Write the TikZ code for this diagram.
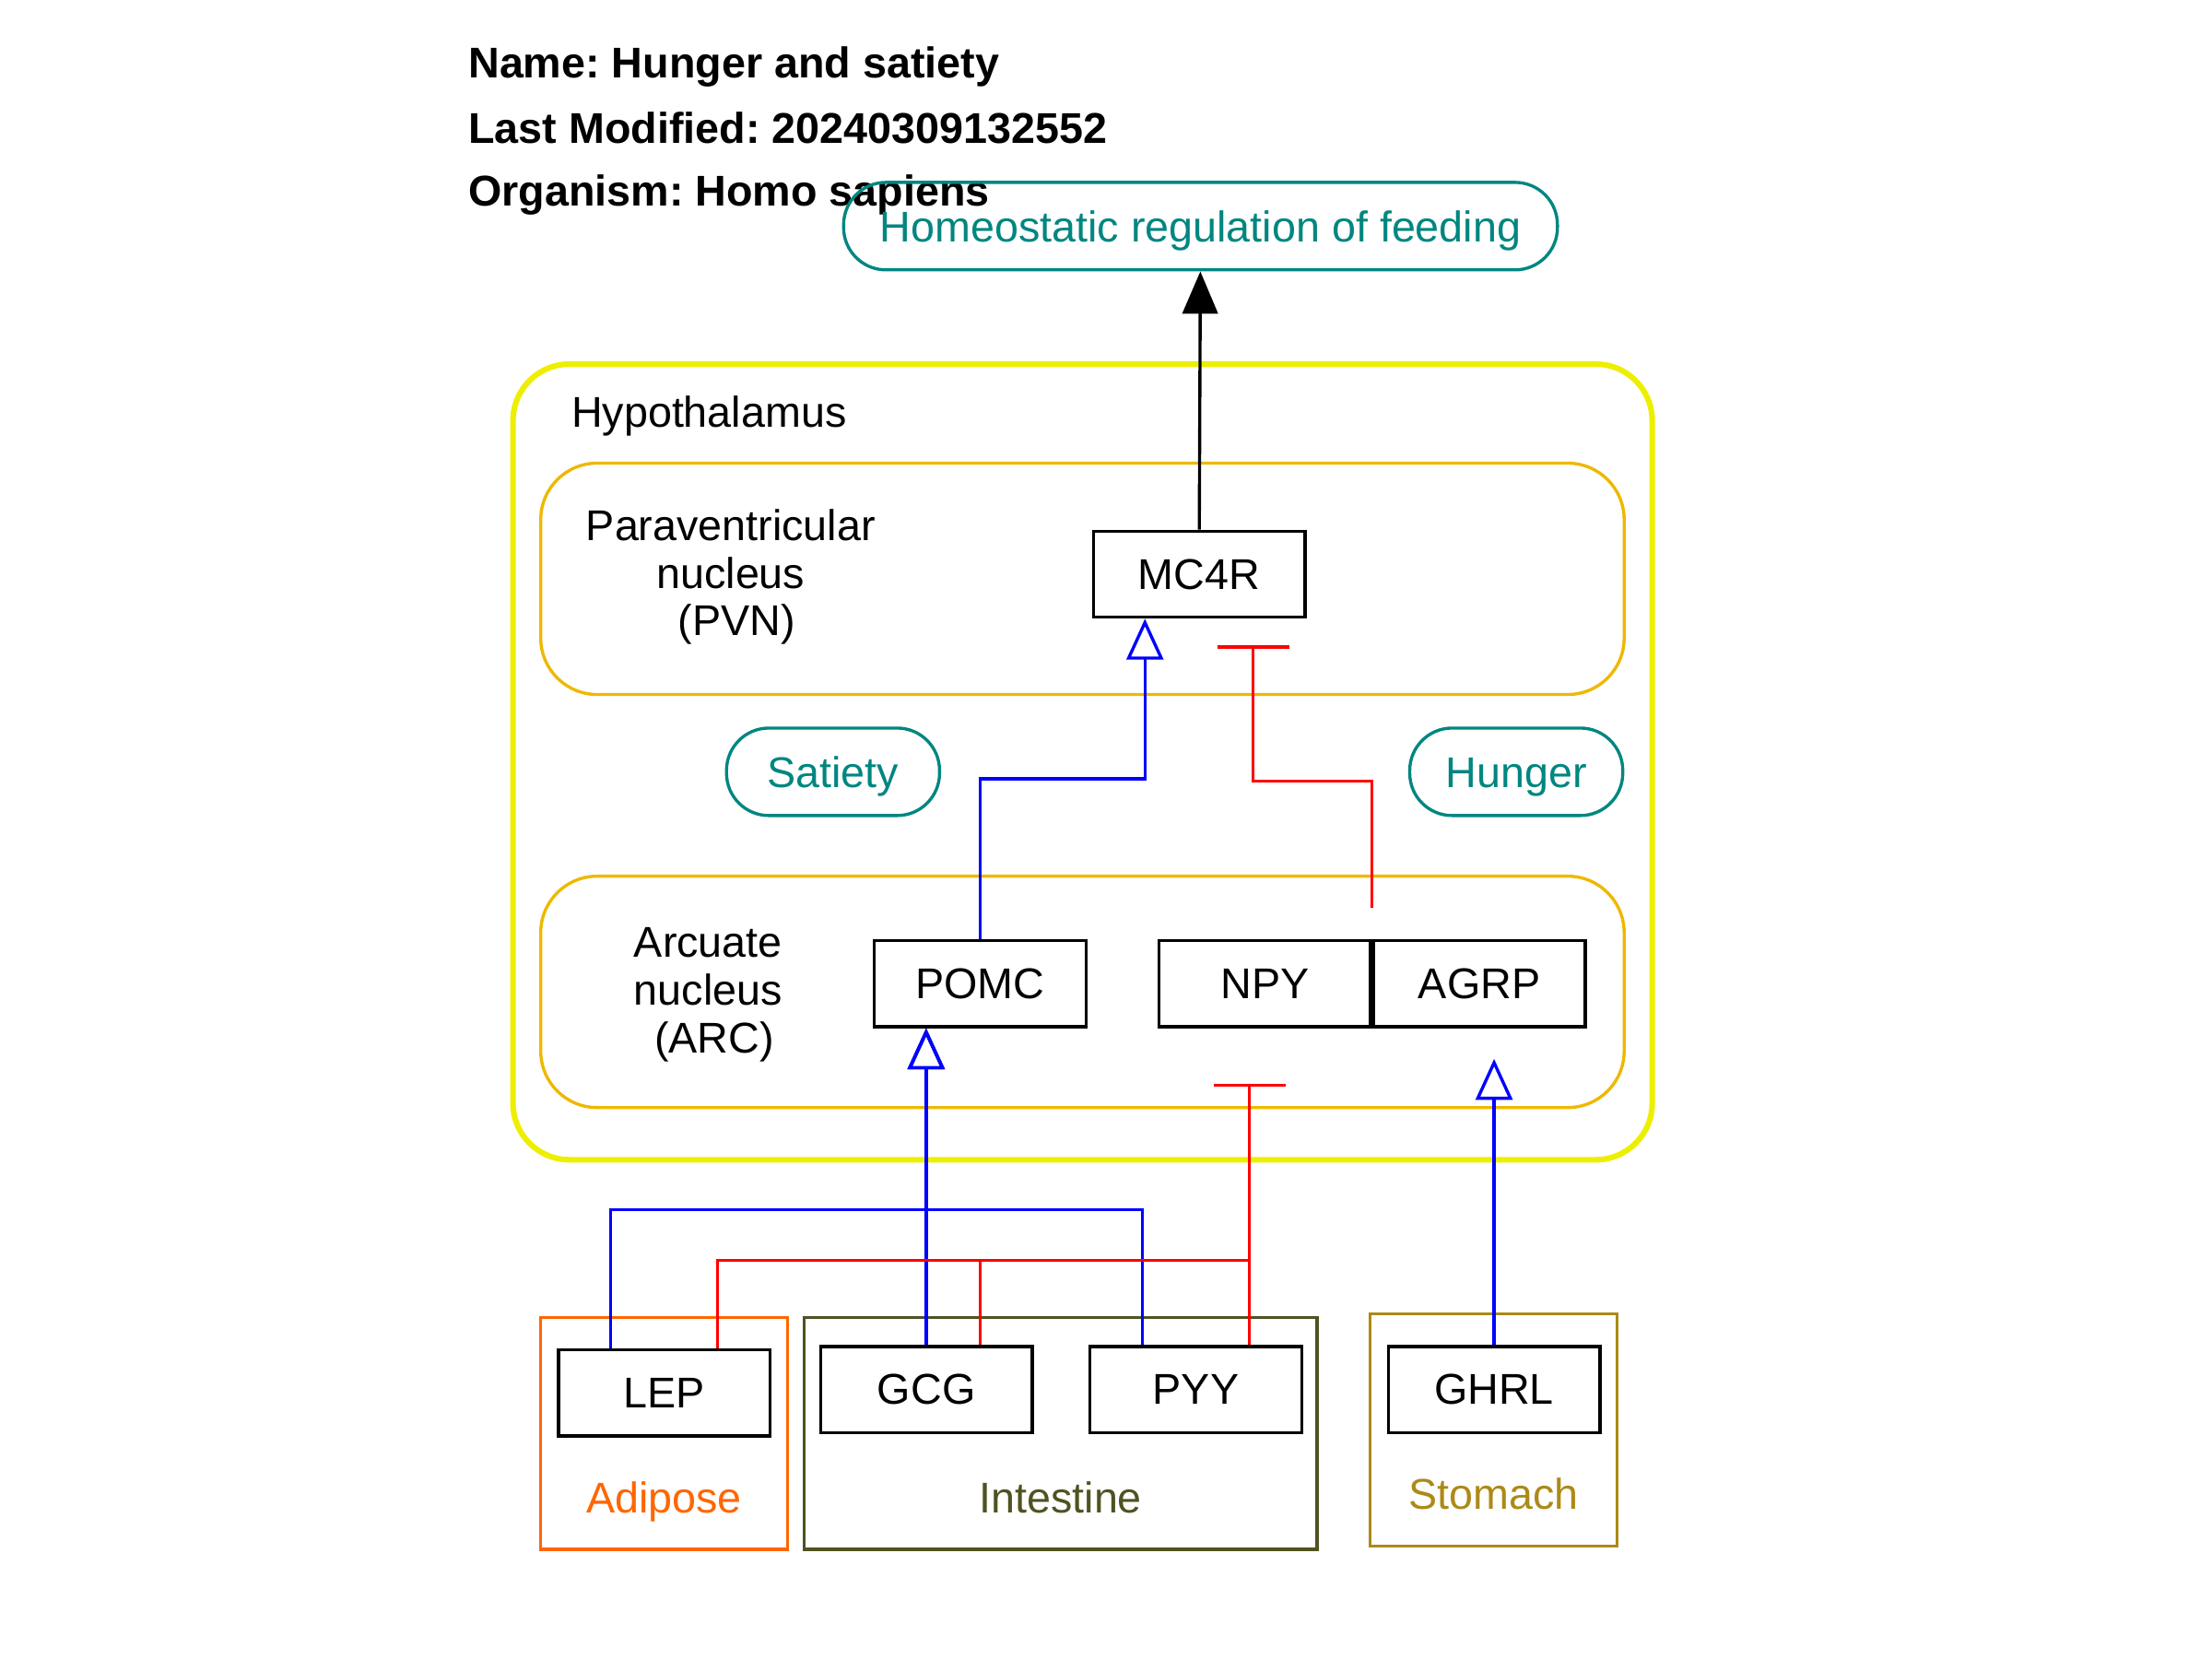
\documentclass[tikz,border=0pt]{standalone}
\usepackage{fontspec}
\setmainfont{Liberation Sans}
\usetikzlibrary{arrows.meta,positioning}
\definecolor{pillteal}{RGB}{0,134,128}
\definecolor{hypoyellow}{RGB}{238,238,0}
\definecolor{nucleusgold}{RGB}{238,184,0}
\definecolor{adiposeorange}{RGB}{255,102,0}
\definecolor{intestineolive}{RGB}{80,82,33}
\definecolor{stomachgold}{RGB}{173,138,23}
\frenchspacing

\begin{document}
\begin{tikzpicture} [x=0.5pt, y=-0.5pt, node distance=76pt,
                    every node/.style={font=\fontsize{15.25pt}{16.9pt}\selectfont},
                    title/.style={anchor=base west, inner sep=0pt, font=\fontsize{15.25pt}{16.9pt}\selectfont\bfseries},
                    gene/.style={draw, line width=1.1pt, minimum width=75pt, minimum height=30.5pt, inner sep=0pt},
                    pill/.style={draw=pillteal, text=pillteal, line width=1.1pt, rounded corners=15pt,
                                 minimum height=31pt, inner sep=0pt, text height=10.9pt, text depth=0pt},
                    nucleus/.style={draw=nucleusgold, line width=1.1pt, rounded corners=20pt,
                                    minimum width=384pt, minimum height=82pt},
                    tissue/.style={draw=#1, line width=1.1pt, minimum width=87.5pt, minimum height=82.25pt},
                    stim/.style={draw=blue, line width=1.1pt, -{Triangle[open, width=13pt, length=14.5pt]}},
                    inhib/.style={draw=red, line width=1.1pt, -{Bar[width=25.5pt]}}]
    \useasboundingbox (0,0) rectangle (1568,1176);

    \node[draw=hypoyellow, line width=2pt, rounded corners=20pt, minimum width=403.75pt,
          minimum height=282pt] (hypo) at (767.4,540.1) {};
    \node[nucleus] (pvn) at (767.3,410.3) {};
    \node[nucleus] (arc) at (767.3,703.1) {};
    \node[tissue=adiposeorange] (adipose) at (470.8,1016) {};
    \node[tissue=intestineolive, minimum width=181.85pt] (intestine) at (751.8,1016) {};
    \node[tissue=stomachgold] (stomach) at (1058.8,1013.6) {};

    \node[title] (name) at (331.7,55.5) {Name: Hunger and satiety};
    \node[title] (modified) at (331.7,101.3) {Last Modified: 20240309132552};
    \node[title] (organism) at (331.7,146.3) {Organism: Homo sapiens};

    \node[anchor=base west, inner sep=0pt] (hypolabel) at (404.7,302.7) {Hypothalamus};
    \node[align=center] (pvnlabel) at (518,409) {Paraventricular\\nucleus\\~(PVN)};
    \node[align=center] (arclabel) at (502,705) {Arcuate\\nucleus\\~(ARC)};
    \node[anchor=base, text=adiposeorange] (adiposelabel) at (470.8,1072.6) {Adipose};
    \node[anchor=base, text=intestineolive] (intestinelabel) at (751.8,1072.6) {Intestine};
    \node[anchor=base, text=stomachgold] (stomachlabel) at (1058.8,1069.7) {Stomach};

    \node[pill, minimum width=253pt] (feeding) at (851,160.3) {Homeostatic regulation of feeding};
    \node[pill, minimum width=75.5pt] (satiety) at (590.5,547.1) {Satiety};
    \node[pill, minimum width=75.5pt] (hunger) at (1074.8,547.1) {Hunger};

    \node[gene] (mc4r) at (850,407) {MC4R};
    \node[gene] (pomc) at (694.8,697.4) {POMC};
    \node[gene] (npy) at (896.6,697.4) {NPY};
    \node[gene] (agrp) [right of=npy] {AGRP};
    \node[gene] (lep) at (470.8,987.4) {LEP};
    \node[gene] (gcg) at (656.7,984.9) {GCG};
    \node[gene] (pyy) [right of=gcg, node distance=95.5pt] {PYY};
    \node[gene] (ghrl) at (1059.1,984.9) {GHRL};

    \coordinate (mc4rin) at (811.6,552);
    \coordinate (mc4rbar) at (888.4,553.6);
    \coordinate (pomcin) at (656.4,857.6);
    \coordinate (npybar) at (885.7,893.3);

    \path (mc4r) edge[line width=1.1pt, -{Triangle[width=12.5pt, length=15pt]}] (feeding);
    \draw[stim] (pomc) |- (mc4rin) -- (mc4r.south -| mc4rin);
    \draw[inhib, shorten >=9.5pt] ([yshift=11pt]agrp.north west) |- (mc4rbar) -- (mc4r.south -| mc4rbar);
    \draw[stim] ([xshift=-19pt]lep.north) |- (pomcin) -- (pomc.south -| pomcin);
    \draw[stim] ([xshift=-19pt]pyy.north) |- (pomcin) -- (pomc.south -| pomcin);
    \draw[stim] (gcg) -- (pomc.south -| gcg);
    \draw[inhib, shorten >=19.6pt] ([xshift=19pt]lep.north) |- (npybar) -- (npy.south -| npybar);
    \draw[inhib, shorten >=19.6pt] ([xshift=19pt]gcg.north) |- (npybar) -- (npy.south -| npybar);
    \draw[inhib, shorten >=19.6pt] ([xshift=19pt]pyy.north) -- (npy.south -| npybar);
    \draw[stim, shorten >=10.8pt] (ghrl) -- (agrp.south -| ghrl);
\end{tikzpicture}
\end{document}
